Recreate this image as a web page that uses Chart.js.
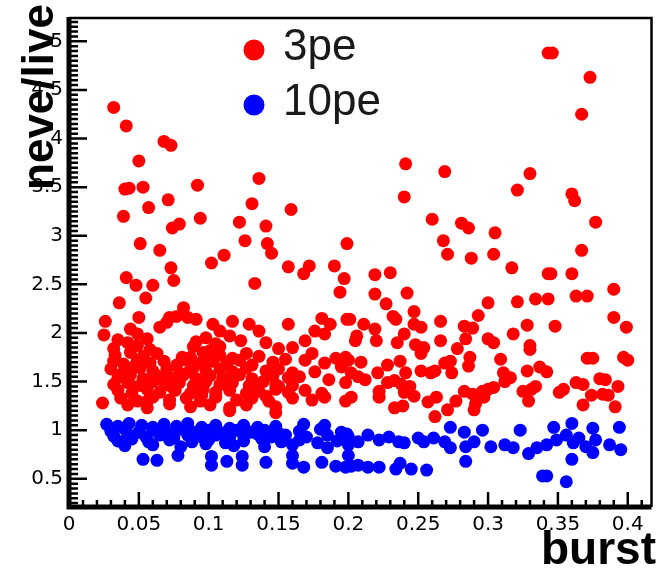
<!DOCTYPE html>
<html>
<head>
<meta charset="utf-8">
<script src="https://cdn.jsdelivr.net/npm/chart.js@4.4.1/dist/chart.umd.min.js"></script>
<style>
  html, body { margin: 0; padding: 0; background: #fff; }
  #wrap { width: 658px; height: 568px; }
</style>
</head>
<body>
<div id="wrap"><canvas id="chart" width="658" height="568"></canvas></div>
<script>
// Axis ticks and labels
const xTickValues = [0, 0.05, 0.1, 0.15, 0.2, 0.25, 0.3, 0.35, 0.4];
const xTickLabels = ['0', '0.05', '0.1', '0.15', '0.2', '0.25', '0.3', '0.35', '0.4'];
const yTickValues = [0.5, 1, 1.5, 2, 2.5, 3, 3.5, 4, 4.5, 5];
const yTickLabels = ['0.5', '1', '1.5', '2', '2.5', '3', '3.5', '4', '4.5', '5'];

// Series names
const seriesNames = ['3pe', '10pe'];

// 3pe points [burst, neve/live]
const pe3Points = [
  // sparse upper points
  [0.032, 4.32], [0.041, 4.13], [0.068, 3.97], [0.073, 3.93], [0.050, 3.77],
  [0.040, 3.48], [0.043, 3.49], [0.053, 3.50], [0.092, 3.52], [0.136, 3.59],
  [0.071, 3.37], [0.057, 3.29], [0.131, 3.33], [0.159, 3.27], [0.039, 3.20],
  [0.094, 3.18], [0.074, 3.08], [0.079, 3.12], [0.122, 3.14], [0.141, 3.10],
  [0.051, 2.92], [0.065, 2.85], [0.126, 2.95], [0.142, 2.92], [0.145, 2.82],
  [0.111, 2.80], [0.102, 2.72], [0.073, 2.67], [0.041, 2.57], [0.157, 2.68],
  [0.172, 2.69], [0.168, 2.61], [0.190, 2.69], [0.199, 2.92], [0.197, 2.56],
  [0.219, 2.60], [0.230, 2.62], [0.241, 3.74], [0.240, 3.40], [0.269, 3.66],
  [0.260, 3.17], [0.281, 3.13], [0.286, 3.08], [0.268, 2.95], [0.271, 2.81],
  [0.288, 2.77], [0.305, 3.03], [0.304, 2.81], [0.317, 2.67], [0.321, 3.47],
  [0.330, 3.64], [0.343, 4.88], [0.346, 4.88], [0.373, 4.63], [0.367, 4.25],
  [0.360, 3.43], [0.362, 3.36], [0.377, 3.14], [0.367, 2.85], [0.343, 2.61],
  [0.345, 2.61], [0.360, 2.61], [0.390, 2.45], [0.048, 2.49], [0.060, 2.49],
  [0.075, 2.54], [0.133, 2.51],
  // band top, x < 0.2
  [0.036, 2.31], [0.055, 2.36], [0.194, 2.42], [0.082, 2.26],
  [0.072, 2.16], [0.077, 2.17], [0.085, 2.16], [0.091, 2.14],
  [0.026, 2.12], [0.025, 1.98], [0.050, 2.16],
  [0.103, 2.09], [0.117, 2.12], [0.129, 2.09], [0.157, 2.09], [0.181, 2.15], [0.187, 2.09], [0.199, 2.14],
  [0.044, 2.04], [0.049, 1.99], [0.065, 2.06], [0.070, 2.11],
  [0.098, 1.95], [0.108, 2.02], [0.115, 1.97], [0.123, 1.92], [0.136, 2.02], [0.141, 1.90],
  [0.150, 1.84], [0.160, 1.85], [0.169, 1.92], [0.176, 2.02], [0.183, 1.99], [0.174, 1.79],
  [0.169, 1.72], [0.183, 1.69], [0.195, 1.65],
  // dense cluster, x < 0.2
  [0.035, 1.93], [0.042, 1.90], [0.056, 1.94], [0.091, 1.91], [0.105, 1.89],
  [0.032, 1.84], [0.049, 1.87], [0.058, 1.83], [0.089, 1.86], [0.101, 1.82], [0.108, 1.86],
  [0.033, 1.77], [0.044, 1.80], [0.053, 1.76], [0.063, 1.79], [0.087, 1.75],
  [0.096, 1.80], [0.108, 1.77], [0.117, 1.74], [0.127, 1.79], [0.136, 1.76],
  [0.032, 1.71], [0.039, 1.68], [0.049, 1.72], [0.058, 1.69], [0.068, 1.71],
  [0.077, 1.67], [0.084, 1.72], [0.094, 1.69], [0.103, 1.71], [0.113, 1.68],
  [0.122, 1.72], [0.131, 1.67], [0.146, 1.70], [0.155, 1.73],
  [0.030, 1.63], [0.042, 1.60], [0.051, 1.64], [0.060, 1.61], [0.070, 1.63],
  [0.079, 1.59], [0.089, 1.64], [0.098, 1.61], [0.108, 1.63], [0.117, 1.60],
  [0.127, 1.64], [0.141, 1.61], [0.150, 1.63], [0.160, 1.59],
  [0.035, 1.54], [0.044, 1.57], [0.053, 1.53], [0.063, 1.56], [0.072, 1.54],
  [0.082, 1.57], [0.091, 1.53], [0.101, 1.56], [0.110, 1.54], [0.122, 1.57],
  [0.131, 1.53], [0.146, 1.56], [0.157, 1.54],
  [0.032, 1.47], [0.042, 1.49], [0.051, 1.46], [0.060, 1.50], [0.070, 1.47],
  [0.079, 1.49], [0.089, 1.46], [0.098, 1.50], [0.108, 1.47], [0.117, 1.49],
  [0.129, 1.46], [0.139, 1.50], [0.148, 1.47], [0.160, 1.46],
  [0.035, 1.41], [0.045, 1.38], [0.056, 1.42], [0.065, 1.39], [0.076, 1.41],
  [0.087, 1.38], [0.096, 1.42], [0.105, 1.39], [0.115, 1.41], [0.127, 1.38],
  [0.136, 1.40], [0.148, 1.42], [0.157, 1.39], [0.169, 1.41], [0.181, 1.38],
  [0.037, 1.33], [0.049, 1.30], [0.060, 1.34], [0.072, 1.31], [0.084, 1.33],
  [0.094, 1.30], [0.105, 1.34], [0.120, 1.31], [0.131, 1.33], [0.143, 1.30],
  [0.160, 1.33], [0.174, 1.31], [0.183, 1.34], [0.198, 1.30],
  [0.042, 1.26], [0.056, 1.23], [0.072, 1.27], [0.087, 1.24], [0.101, 1.26],
  [0.115, 1.23], [0.127, 1.26], [0.148, 1.24],
  [0.038, 1.58], [0.047, 1.66], [0.066, 1.52], [0.074, 1.44], [0.086, 1.60],
  [0.095, 1.36], [0.056, 1.30], [0.046, 1.45], [0.081, 1.75], [0.112, 1.52], [0.099, 1.72],
  [0.165, 1.55], [0.176, 1.60], [0.186, 1.52], [0.198, 1.49],
  [0.191, 1.74], [0.198, 1.75], [0.134, 1.42], [0.141, 1.35], [0.150, 1.45],
  [0.148, 1.18], [0.115, 1.20], [0.024, 1.28],
  // x >= 0.2
  [0.219, 2.40], [0.242, 2.41], [0.227, 2.30], [0.247, 2.22], [0.232, 2.17],
  [0.234, 2.14], [0.211, 2.09], [0.247, 2.09], [0.252, 2.06], [0.266, 2.12],
  [0.219, 2.04], [0.201, 2.14], [0.206, 1.97], [0.205, 1.92], [0.220, 1.92],
  [0.240, 1.99], [0.235, 1.90], [0.248, 1.88], [0.254, 1.85], [0.252, 1.79],
  [0.266, 1.92], [0.278, 1.84], [0.284, 1.94], [0.283, 2.07], [0.289, 2.05],
  [0.293, 2.18], [0.300, 2.31], [0.321, 2.32], [0.334, 2.35], [0.343, 2.35],
  [0.363, 2.38], [0.371, 2.38], [0.390, 2.16], [0.399, 2.06], [0.348, 2.07],
  [0.328, 2.08], [0.318, 1.99], [0.300, 1.94], [0.304, 1.90], [0.330, 1.87],
  [0.330, 1.83], [0.309, 1.73], [0.287, 1.75], [0.286, 1.66], [0.273, 1.71],
  [0.269, 1.69], [0.262, 1.61], [0.259, 1.59], [0.274, 1.59], [0.252, 1.61],
  [0.241, 1.59], [0.237, 1.71], [0.228, 1.67], [0.221, 1.59], [0.209, 1.70],
  [0.200, 1.72], [0.202, 1.59], [0.207, 1.55], [0.212, 1.52], [0.228, 1.49],
  [0.233, 1.51], [0.238, 1.47], [0.244, 1.45], [0.222, 1.40], [0.222, 1.34],
  [0.202, 1.34], [0.240, 1.39], [0.247, 1.35], [0.233, 1.23], [0.239, 1.25],
  [0.257, 1.29], [0.263, 1.34], [0.271, 1.21], [0.277, 1.30], [0.262, 1.14],
  [0.290, 1.21], [0.291, 1.27], [0.283, 1.40], [0.289, 1.37], [0.296, 1.40],
  [0.300, 1.42], [0.304, 1.44], [0.297, 1.34], [0.311, 1.59], [0.316, 1.54],
  [0.312, 1.50], [0.325, 1.40], [0.331, 1.42], [0.334, 1.45], [0.329, 1.30],
  [0.328, 1.61], [0.337, 1.65], [0.342, 1.60], [0.351, 1.39], [0.354, 1.42],
  [0.363, 1.49], [0.368, 1.47], [0.371, 1.74], [0.375, 1.74], [0.397, 1.75],
  [0.400, 1.72], [0.380, 1.53], [0.384, 1.52], [0.374, 1.36], [0.382, 1.37],
  [0.386, 1.36], [0.393, 1.45], [0.368, 1.26], [0.391, 1.24]
];

// 10pe points [burst, neve/live]
const pe10Points = [
  [0.027, 1.06], [0.035, 1.04], [0.043, 1.07], [0.052, 1.05], [0.060, 1.03],
  [0.068, 1.06], [0.077, 1.04], [0.085, 1.07], [0.095, 1.03], [0.105, 1.05],
  [0.115, 1.02], [0.125, 1.05], [0.135, 1.03], [0.148, 1.04], [0.168, 1.06], [0.183, 1.05],
  [0.030, 0.99], [0.040, 1.01], [0.050, 0.98], [0.060, 1.00], [0.070, 0.97],
  [0.080, 1.01], [0.090, 0.98], [0.100, 1.00], [0.110, 0.97], [0.120, 1.00],
  [0.130, 0.98], [0.140, 1.00], [0.150, 0.97], [0.165, 0.99], [0.180, 1.01], [0.195, 0.98],
  [0.032, 0.94], [0.042, 0.96], [0.055, 0.93], [0.065, 0.95], [0.075, 0.92],
  [0.085, 0.95], [0.095, 0.93], [0.105, 0.95], [0.115, 0.92], [0.125, 0.94],
  [0.135, 0.96], [0.145, 0.93], [0.155, 0.95], [0.170, 0.93], [0.185, 0.95], [0.199, 0.96],
  [0.035, 0.89], [0.045, 0.91], [0.057, 0.88], [0.072, 0.90], [0.088, 0.88],
  [0.100, 0.90], [0.112, 0.87], [0.125, 0.89], [0.138, 0.91], [0.152, 0.88],
  [0.165, 0.90], [0.178, 0.87], [0.192, 0.89],
  [0.040, 0.84], [0.060, 0.85], [0.080, 0.83], [0.098, 0.86], [0.118, 0.84],
  [0.140, 0.83], [0.160, 0.85], [0.185, 0.82],
  [0.053, 0.70], [0.063, 0.69], [0.078, 0.74], [0.102, 0.73], [0.102, 0.64],
  [0.113, 0.68], [0.124, 0.73], [0.124, 0.64], [0.141, 0.67], [0.160, 0.74],
  [0.160, 0.66], [0.191, 0.63], [0.198, 0.62], [0.168, 0.62], [0.181, 0.67],
  [0.200, 0.93], [0.207, 0.88], [0.214, 0.95], [0.222, 0.90], [0.229, 0.93],
  [0.236, 0.88], [0.200, 0.85], [0.240, 0.87], [0.250, 0.92], [0.254, 0.88],
  [0.261, 0.92], [0.269, 0.88], [0.273, 0.82], [0.284, 0.83], [0.290, 0.88],
  [0.302, 0.83], [0.312, 0.85], [0.318, 0.82], [0.329, 0.76], [0.335, 0.82],
  [0.342, 0.85], [0.349, 0.90], [0.356, 0.95], [0.361, 0.87], [0.365, 0.92],
  [0.370, 0.83], [0.375, 0.77], [0.377, 0.90], [0.387, 0.85], [0.395, 0.80],
  [0.273, 1.03], [0.283, 0.98], [0.296, 1.00], [0.323, 1.00], [0.347, 1.03],
  [0.360, 1.07], [0.375, 1.02], [0.394, 1.03],
  [0.207, 0.64], [0.214, 0.62], [0.222, 0.62], [0.234, 0.60], [0.237, 0.66],
  [0.245, 0.60], [0.256, 0.59], [0.284, 0.68], [0.200, 0.74], [0.202, 0.63],
  [0.339, 0.53], [0.342, 0.53], [0.356, 0.47], [0.360, 0.70]
];

const seriesColors = ['#ff0000', '#0000ff'];
const FONT = '"Liberation Sans", Arial, Helvetica, sans-serif';
const TICK_FONT = '"DejaVu Sans", "Liberation Sans", sans-serif';

// ROOT style frame, inward ticks, titles and legend
const rootFrame = {
  id: 'rootFrame',
  afterDraw(chart) {
    const { ctx, chartArea: a, scales: { x, y } } = chart;
    ctx.save();
    ctx.strokeStyle = '#000';

    // thin top / right frame
    ctx.lineWidth = 2.5;
    ctx.beginPath();
    ctx.moveTo(a.left, a.top);
    ctx.lineTo(a.right, a.top);
    ctx.lineTo(a.right, a.bottom);
    ctx.stroke();

    // thick axes
    ctx.lineWidth = 5;
    ctx.beginPath();
    ctx.moveTo(a.left, a.top - 1);
    ctx.lineTo(a.left, a.bottom);
    ctx.lineTo(a.right, a.bottom);
    ctx.stroke();

    // ticks pointing inside
    ctx.lineWidth = 2.5;
    ctx.beginPath();
    for (let i = 0; i <= 41; i++) {
      const px = x.getPixelForValue(i / 100);
      const len = i % 5 === 0 ? 15 : 7;
      ctx.moveTo(px, a.bottom);
      ctx.lineTo(px, a.bottom - len);
    }
    for (let i = 5; i <= 104; i++) {
      const py = y.getPixelForValue(i / 20);
      const len = i % 10 === 0 ? 18 : 9;
      ctx.moveTo(a.left, py);
      ctx.lineTo(a.left + len, py);
    }
    ctx.stroke();

    // axis titles
    ctx.fillStyle = '#000';
    ctx.font = 'bold 46px ' + FONT;
    ctx.textAlign = 'right';
    ctx.textBaseline = 'alphabetic';
    ctx.fillText('burst', 656, 564);

    ctx.save();
    ctx.translate(53, 97);
    ctx.rotate(-Math.PI / 2);
    ctx.textAlign = 'center';
    ctx.font = 'bold 44px ' + FONT;
    ctx.fillText('neve/live', 0, 0);
    ctx.restore();

    // legend
    const rows = [60, 115];
    ctx.font = '44px ' + FONT;
    ctx.textAlign = 'left';
    chart.data.datasets.forEach((ds, i) => {
      ctx.fillStyle = ds.backgroundColor;
      ctx.beginPath();
      ctx.arc(254, rows[i] - 10, 10.5, 0, Math.PI * 2);
      ctx.fill();
      ctx.fillStyle = '#1a1a1a';
      ctx.fillText(ds.label, 283, rows[i]);
    });
    ctx.restore();
  }
};

const toXY = pts => pts.map(([bx, ny]) => ({ x: bx, y: ny }));

new Chart(document.getElementById('chart'), {
  type: 'scatter',
  data: {
    datasets: [
      { label: seriesNames[0], data: toXY(pe3Points), backgroundColor: seriesColors[0], borderWidth: 0, pointRadius: 6.5 },
      { label: seriesNames[1], data: toXY(pe10Points), backgroundColor: seriesColors[1], borderWidth: 0, pointRadius: 6.5 }
    ]
  },
  options: {
    responsive: false,
    animation: false,
    events: [],
    layout: { padding: { left: 0, right: 1, top: 6, bottom: 0 } },
    plugins: { legend: { display: false }, tooltip: { enabled: false } },
    scales: {
      x: {
        type: 'linear',
        min: 0,
        max: 0.417,
        afterBuildTicks: s => { s.ticks = xTickValues.map(v => ({ value: v })); },
        afterFit: s => { s.height = 61; },
        grid: { display: false, drawTicks: false },
        border: { display: false },
        ticks: {
          callback: (v, i) => xTickLabels[i],
          autoSkip: false,
          maxRotation: 0,
          padding: 6,
          color: '#000',
          font: { family: TICK_FONT, size: 20 }
        }
      },
      y: {
        type: 'linear',
        min: 0.21,
        max: 5.24,
        afterBuildTicks: s => { s.ticks = yTickValues.map(v => ({ value: v })); },
        afterFit: s => { s.width = 69; },
        grid: { display: false, drawTicks: false },
        border: { display: false },
        ticks: {
          callback: (v, i) => yTickLabels[i],
          autoSkip: false,
          padding: 6,
          color: '#000',
          font: { family: TICK_FONT, size: 20 }
        }
      }
    }
  },
  plugins: [rootFrame]
});
</script>
</body>
</html>
